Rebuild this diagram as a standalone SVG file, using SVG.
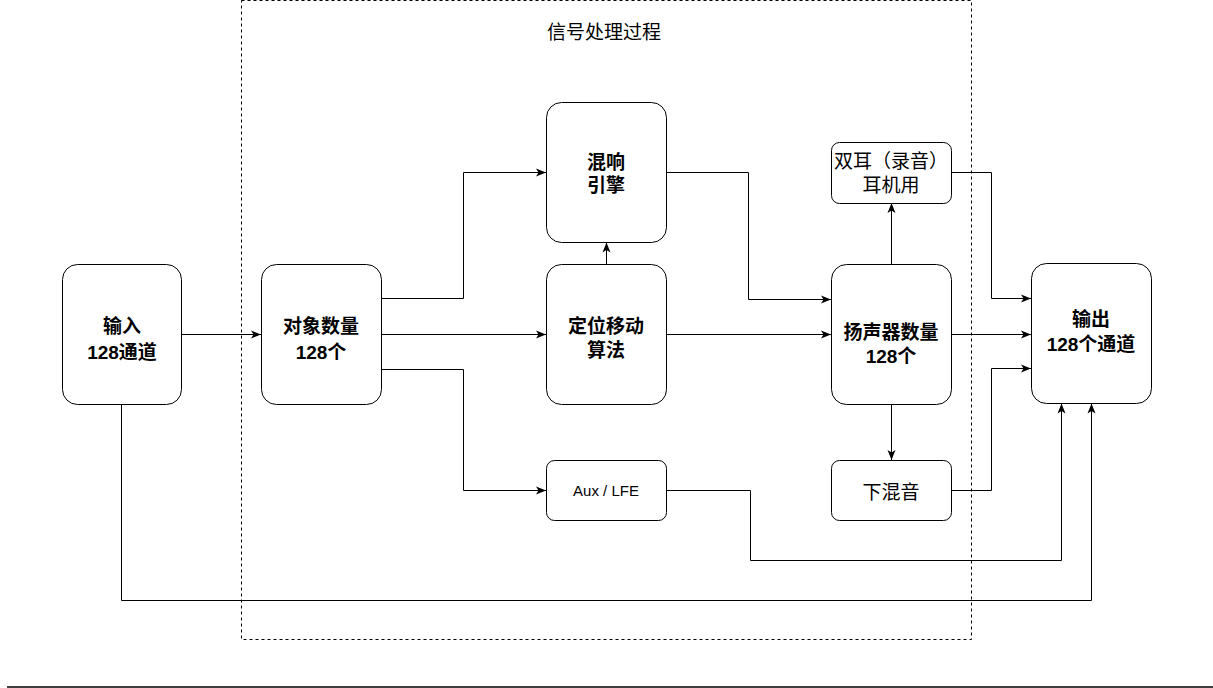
<svg xmlns="http://www.w3.org/2000/svg" width="1213" height="688" viewBox="0 0 1213 688">
<style>
.node rect{fill:#fff;stroke:#000;stroke-width:1}
.t{font-family:"Liberation Sans","Noto Sans CJK SC",sans-serif;font-size:19px;text-anchor:middle;fill:#000}
.b{font-weight:bold}
.c path{fill:none;stroke:#000;stroke-width:1}
</style>
<defs>
<marker id="ah" viewBox="0 0 10 10" refX="10" refY="5" markerWidth="10" markerHeight="10" markerUnits="userSpaceOnUse" orient="auto">
<path d="M0,1 L10,5 L0,9 L2.5,5 Z" fill="#000"/>
</marker>
</defs>
<rect width="1213" height="688" fill="#fff"/>
<g id="container">
<rect x="241.5" y="0.5" width="730" height="639" fill="none" stroke="#000" stroke-dasharray="3,3"/>
<text class="t" x="604" y="39">信号处理过程</text>
</g>
<g class="c" id="connectors">
<path d="M181.5,334.5 H261" marker-end="url(#ah)"/>
<path d="M381.5,334.5 H546" marker-end="url(#ah)"/>
<path d="M381.5,298.5 H463.5 V172.5 H546" marker-end="url(#ah)"/>
<path d="M381.5,369.5 H463.5 V490.5 H546" marker-end="url(#ah)"/>
<path d="M606.5,264 V242.5" marker-end="url(#ah)"/>
<path d="M666.5,172.5 H748.5 V299.5 H831" marker-end="url(#ah)"/>
<path d="M666.5,334.5 H831" marker-end="url(#ah)"/>
<path d="M891.5,264 V203" marker-end="url(#ah)"/>
<path d="M891.5,404 V460" marker-end="url(#ah)"/>
<path d="M951.5,172.5 H991.5 V298.5 H1031" marker-end="url(#ah)"/>
<path d="M951.5,334.5 H1031" marker-end="url(#ah)"/>
<path d="M951.5,490.5 H991.5 V368.5 H1031" marker-end="url(#ah)"/>
<path d="M666.5,490.5 H750.5 V560.5 H1061.5 V403.5" marker-end="url(#ah)"/>
<path d="M121.5,404 V600.5 H1091.5 V403.5" marker-end="url(#ah)"/>
</g>
<g class="node" id="input">
<rect x="62.5" y="264.5" width="119" height="140" rx="15"/>
<text class="t b" x="122" y="333">输入</text>
<text class="t b" x="122" y="359">128通道</text>
</g>
<g class="node" id="objects">
<rect x="261.5" y="264.5" width="120" height="140" rx="15"/>
<text class="t b" x="321" y="333">对象数量</text>
<text class="t b" x="321" y="359">128个</text>
</g>
<g class="node" id="reverb">
<rect x="546.5" y="102.5" width="120" height="140" rx="15"/>
<text class="t b" x="606" y="169">混响</text>
<text class="t b" x="606" y="192">引擎</text>
</g>
<g class="node" id="panning">
<rect x="546.5" y="264.5" width="120" height="140" rx="15"/>
<text class="t b" x="606" y="333">定位移动</text>
<text class="t b" x="606" y="357">算法</text>
</g>
<g class="node" id="aux">
<rect x="546.5" y="460.5" width="120" height="60" rx="8"/>
<text class="t" x="606" y="496" style="font-size:15px">Aux / LFE</text>
</g>
<g class="node" id="speakers">
<rect x="831.5" y="264.5" width="120" height="140" rx="15"/>
<text class="t b" x="891" y="339">扬声器数量</text>
<text class="t b" x="891" y="363">128个</text>
</g>
<g class="node" id="binaural">
<rect x="831.5" y="142.5" width="120" height="61" rx="8"/>
<text class="t" x="891" y="168">双耳（录音）</text>
<text class="t" x="891" y="192">耳机用</text>
</g>
<g class="node" id="downmix">
<rect x="831.5" y="460.5" width="120" height="60" rx="8"/>
<text class="t" x="891" y="499">下混音</text>
</g>
<g class="node" id="output">
<rect x="1031.5" y="263.5" width="120" height="140" rx="15"/>
<text class="t b" x="1091" y="326">输出</text>
<text class="t b" x="1091" y="351">128个通道</text>
</g>
<line x1="7" y1="687" x2="1213" y2="687" stroke="#000" stroke-width="1.5"/>
</svg>
